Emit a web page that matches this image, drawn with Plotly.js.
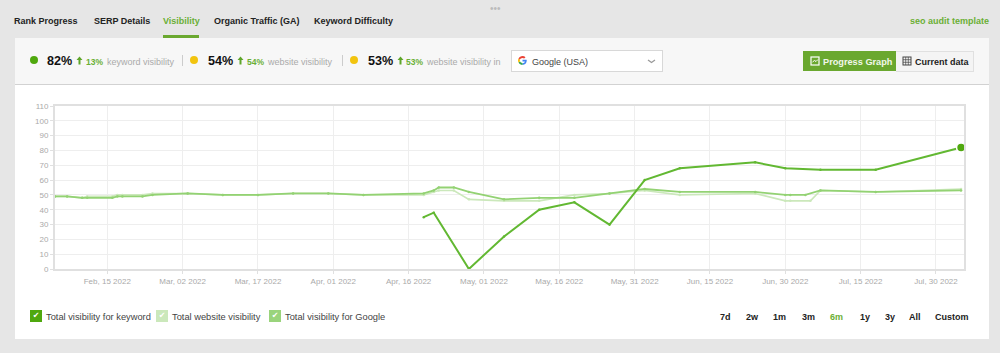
<!DOCTYPE html>
<html><head><meta charset="utf-8">
<script src="https://cdn.plot.ly/plotly-3.0.1.min.js"></script>
<style>
html,body{margin:0;padding:0;width:1000px;height:353px;overflow:hidden;background:#e6e6e6;font-family:"Liberation Sans",Arial,sans-serif;}
#panel{position:absolute;left:14.5px;top:38px;width:974px;height:301px;background:#fff;}
#bar{position:absolute;left:14.5px;top:38px;width:974px;height:46px;background:#f7f7f7;border-bottom:1.5px solid #d2d2d2;}
#chart{position:absolute;left:0;top:0;width:1000px;height:353px;}
.t{position:absolute;white-space:nowrap;line-height:12px;}
.tab{font-size:9px;font-weight:bold;color:#222;top:15px;}
.big{font-size:12.6px;font-weight:bold;color:#111;top:55px;line-height:12px;}
.up{font-size:8.5px;font-weight:bold;color:#6aaf35;top:55.5px;}
.lab{font-size:9px;color:#aaa;top:55.5px;}
.dot{position:absolute;width:8px;height:8px;border-radius:50%;top:56px;}
.sep{position:absolute;width:1px;height:11px;top:55px;background:#ccc;}
.chk{position:absolute;top:310px;width:12px;height:12px;color:#fff;font-size:8px;font-weight:bold;line-height:12px;text-align:center;font-family:"DejaVu Sans";}
.leg{font-size:9.3px;color:#444;top:310.500px;}
.rng{font-size:9px;font-weight:bold;color:#222;top:310.500px;}
.g{color:#6aaf35;}
</style></head><body>
<div id="panel"></div><div id="bar"></div><div id="chart"></div>
<div class="t" style="left:490px;top:3px;font-size:10px;color:#bbb;letter-spacing:0;">•••</div>
<div class="t tab" style="left:14px">Rank Progress</div>
<div class="t tab" style="left:94px">SERP Details</div>
<div class="t tab g" style="left:163px">Visibility</div>
<div style="position:absolute;left:163px;top:35px;width:36px;height:3px;background:#6aa82f"></div>
<div class="t tab" style="left:214px">Organic Traffic (GA)</div>
<div class="t tab" style="left:314px">Keyword Difficulty</div>
<div class="t tab g" style="left:910px">seo audit template</div>

<div class="dot" style="left:29.5px;background:#4fa80e"></div>
<div class="t big" style="left:47px">82%</div>
<svg style="position:absolute;left:76px;top:56px" width="7" height="9"><path d="M3.500 0.500L6.500 4H4.500V8.500H2.500V4H0.500z" fill="#5ea62a"/></svg>
<div class="t up" style="left:86px">13%</div>
<div class="t lab" style="left:107px">keyword visibility</div>
<div class="sep" style="left:182px"></div>
<div class="dot" style="left:190px;background:#f2c40f"></div>
<div class="t big" style="left:208px">54%</div>
<svg style="position:absolute;left:237px;top:56px" width="7" height="9"><path d="M3.500 0.500L6.500 4H4.500V8.500H2.500V4H0.500z" fill="#5ea62a"/></svg>
<div class="t up" style="left:247px">54%</div>
<div class="t lab" style="left:268px">website visibility</div>
<div class="sep" style="left:342px"></div>
<div class="dot" style="left:350px;background:#f2c40f"></div>
<div class="t big" style="left:368px">53%</div>
<svg style="position:absolute;left:397px;top:56px" width="7" height="9"><path d="M3.500 0.500L6.500 4H4.500V8.500H2.500V4H0.500z" fill="#5ea62a"/></svg>
<div class="t up" style="left:406px">53%</div>
<div class="t lab" style="left:427px">website visibility in</div>

<div style="position:absolute;left:511px;top:50px;width:150px;height:20px;background:#fff;border:1px solid #d8d8d8;"></div>
<svg style="position:absolute;left:518px;top:55px" width="9" height="11" viewBox="0 0 18 18">
<path d="M9 7.4v3.4h4.8c-.5 2-2.3 3.4-4.8 3.4V18c4.800 0 8.500-3.300 8.500-8.800 0-.6-.1-1.200-.2-1.800z" fill="#4285f4"/>
<path d="M4 10.700 1.100 13C2.600 16 5.600 18 9 18v-3.800c-2.300 0-4.300-1.500-5-3.500z" fill="#34a853"/>
<path d="M3.800 7.300 1 5C.4 6.200 0 7.600 0 9s.4 2.800 1.100 4L4 10.700c-.3-1-.3-2.400-.2-3.400z" fill="#fbbc05"/>
<path d="M9 3.800c1.300 0 2.400.4 3.300 1.300L15 2.400C13.400.9 11.300 0 9 0 5.600 0 2.600 2 1 5l2.800 2.300C4.500 5.200 6.600 3.800 9 3.800z" fill="#ea4335"/></svg>
<div class="t" style="left:532px;top:55.500px;font-size:9px;color:#444">Google (USA)</div>
<svg style="position:absolute;left:647px;top:59px" width="9" height="5"><path d="M1 1l3.500 2.500L8 1" fill="none" stroke="#999" stroke-width="1.300"/></svg>

<div style="position:absolute;left:803px;top:51px;width:93px;height:20px;background:#6aa82f"></div>
<svg style="position:absolute;left:810px;top:56px" width="10" height="10"><rect x="1" y="1" width="8" height="8" fill="none" stroke="#fff" stroke-width="1.200"/><path d="M2.500 6l2-1.500 1.500 1 2-2" fill="none" stroke="#fff"/></svg>
<div class="t" style="left:823px;top:55.500px;font-size:9.200px;font-weight:bold;color:#f1f7ea">Progress Graph</div>
<div style="position:absolute;left:896px;top:51px;width:77px;height:19px;background:#f4f4f4;border:1px solid #e0e0e0;border-left:none"></div>
<svg style="position:absolute;left:902px;top:56px" width="10" height="10"><rect x="1" y="1" width="8" height="8" fill="none" stroke="#444"/><path d="M1 3.700h8M1 6.300h8M3.700 1v8M6.300 1v8" stroke="#444" stroke-width=".7"/></svg>
<div class="t" style="left:915px;top:55.500px;font-size:9px;font-weight:bold;color:#222">Current data</div>

<div class="chk" style="left:30px;background:#4fa80e">✔</div>
<div class="t leg" style="left:46px">Total visibility for keyword</div>
<div class="chk" style="left:156px;background:#cbe8bb">✔</div>
<div class="t leg" style="left:172px">Total website visibility</div>
<div class="chk" style="left:269px;background:#9ad47c">✔</div>
<div class="t leg" style="left:285px">Total visibility for Google</div>

<div class="t rng" style="left:720px">7d</div>
<div class="t rng" style="left:746px">2w</div>
<div class="t rng" style="left:773px">1m</div>
<div class="t rng" style="left:802px">3m</div>
<div class="t rng g" style="left:830px">6m</div>
<div class="t rng" style="left:860px">1y</div>
<div class="t rng" style="left:885px">3y</div>
<div class="t rng" style="left:909px">All</div>
<div class="t rng" style="left:935px">Custom</div>

<script>
const keywordDates = ["2022-04-19","2022-04-21","2022-04-28","2022-05-05","2022-05-12","2022-05-19","2022-05-26","2022-06-02","2022-06-09","2022-06-24","2022-06-30","2022-07-07","2022-07-18","2022-08-04"];
const keywordValues = [35,38,0,22,40,45,30,60,68,72,68,67,67,82];

const websiteDates = ["2022-02-04 14:00","2022-02-07","2022-02-10","2022-02-11","2022-02-16","2022-02-17","2022-02-18","2022-02-22","2022-02-24","2022-03-03","2022-03-10","2022-03-17","2022-03-24","2022-03-31","2022-04-07","2022-04-19","2022-04-21","2022-04-22","2022-04-25","2022-04-28","2022-05-05","2022-05-12","2022-05-19","2022-05-26","2022-06-02","2022-06-09","2022-06-24","2022-06-30","2022-07-01","2022-07-05","2022-07-07","2022-07-18","2022-08-04"];
const websiteValues = [49,49,48,49,49,50,50,50,51,51,50,50,51,51,50,50,52,53,53,47,46,46,50,51,53,50,51,46,46,46,53,52,54];

const googleDates = ["2022-02-04 14:00","2022-02-07","2022-02-10","2022-02-11","2022-02-16","2022-02-17","2022-02-18","2022-02-22","2022-02-24","2022-03-03","2022-03-10","2022-03-17","2022-03-24","2022-03-31","2022-04-07","2022-04-19","2022-04-21","2022-04-22","2022-04-25","2022-04-28","2022-05-05","2022-05-12","2022-05-19","2022-05-26","2022-06-02","2022-06-09","2022-06-24","2022-06-30","2022-07-01","2022-07-04","2022-07-07","2022-07-18","2022-08-04"];
const googleValues = [49,49,48,48,48,49,49,49,50,51,50,50,51,51,50,51,53,55,55,52,47,48,48,51,54,52,52,50,50,50,53,52,53];

const xTickDates = ["2022-02-15","2022-03-02","2022-03-17","2022-04-01","2022-04-16","2022-05-01","2022-05-16","2022-05-31","2022-06-15","2022-06-30","2022-07-15","2022-07-30"];
const yTicks = [0,10,20,30,40,50,60,70,80,90,100,110];
const xRange = ["2022-02-04 14:00","2022-08-04 14:00"];

function line(x,y,color,w){return {x,y,type:"scatter",mode:"lines+markers",line:{color,width:w,shape:"linear"},marker:{color,size:2.500},hoverinfo:"none",cliponaxis:false,showlegend:false};}
const last = keywordDates.length-1;
const traces = [
  line(websiteDates,websiteValues,"#cbe8bb",1.6),
  line(googleDates,googleValues,"#93d273",1.8),
  line(keywordDates,keywordValues,"#62b832",2),
  {x:[keywordDates[last]],y:[keywordValues[last]],type:"scatter",mode:"markers",marker:{color:"#4fa80e",size:9,line:{color:"#fff",width:1.500}},hoverinfo:"none",cliponaxis:false,showlegend:false}
];
const layout = {
  width:1000,height:353,
  margin:{l:55,r:36,t:105.5,b:83.5,pad:0},
  paper_bgcolor:"rgba(0,0,0,0)",plot_bgcolor:"rgba(0,0,0,0)",
  font:{family:'"Liberation Sans",Arial,sans-serif',size:8,color:"#aaa"},
  showlegend:false,
  xaxis:{type:"date",range:xRange,tickmode:"array",tickvals:xTickDates,tickformat:"%b, %d %Y",
    showgrid:true,gridcolor:"#eeeeee",gridwidth:1,zeroline:false,showline:true,linecolor:"#e0e0e0",linewidth:2,mirror:true,
    ticks:"outside",ticklen:3,tickcolor:"#e0e0e0",tickwidth:1,tickfont:{size:8,color:"#aaa"}},
  yaxis:{range:[0,110],tickmode:"array",tickvals:yTicks,
    showgrid:true,gridcolor:"#eeeeee",gridwidth:1,zeroline:false,showline:true,linecolor:"#e0e0e0",linewidth:2,mirror:true,
    ticks:"outside",ticklen:3,tickcolor:"#e0e0e0",tickwidth:1,tickfont:{size:8,color:"#aaa"}}
};
Plotly.newPlot("chart",traces,layout,{displayModeBar:false,staticPlot:true});
</script>
</body></html>
